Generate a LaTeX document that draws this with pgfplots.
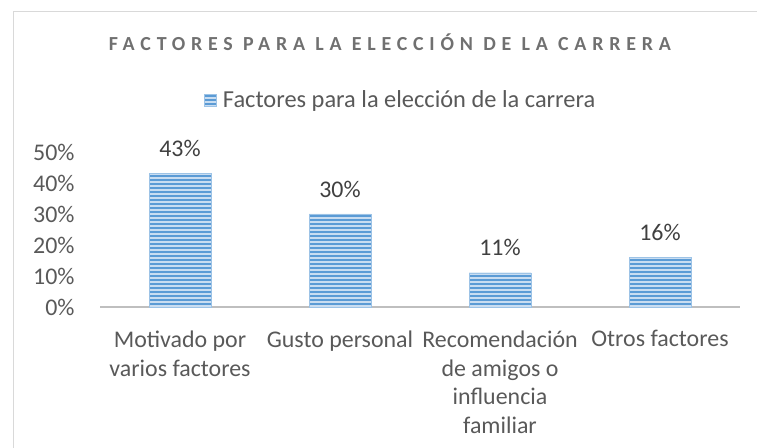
\documentclass[border=0pt]{standalone}
\usepackage{fontspec}
\setmainfont{Carlito}
\usepackage{pgfplots}
\pgfplotsset{compat=1.18}
\usetikzlibrary{patterns.meta}
\definecolor{txt}{HTML}{595959}
\definecolor{lbl}{HTML}{404040}
\definecolor{ttl}{HTML}{707070}
\definecolor{barblue}{HTML}{5B9BD5}
\definecolor{barlight}{HTML}{C9DDF1}
\definecolor{axisgray}{HTML}{BFBFBF}
\definecolor{bordergray}{HTML}{D9D9D9}
\newfontfamily\titlefont[LetterSpace=29]{Carlito Bold}
\begin{document}
\begin{tikzpicture}[x=1bp,y=1bp]
\path[use as bounding box] (0,0) rectangle (757,448);
\draw[bordergray, line width=1.5bp] (13.5,-5) -- (13.5,436.5) -- (765,436.5);
\begin{axis}[
  at={(100bp,141bp)}, anchor=south west,
  scale only axis, width=640bp, height=155bp,
  xmin=-0.5, xmax=3.5, ymin=0, ymax=50,
  clip=false,
  /pgf/number format/assume math mode=true,
  ybar, bar width=62bp,
  axis x line*=bottom, axis y line*=left,
  x axis line style={axisgray, line width=1.5bp, -},
  y axis line style={draw=none},
  major tick length=0,
  ytick={0,10,20,30,40,50},
  yticklabel={\pgfmathprintnumber{\tick}\%},
  yticklabel style={font=\fontsize{24}{28}\selectfont, text=txt, xshift=-22bp},
  xtick={0,1,2,3},
  xticklabels={{Motivado por\\varios factores},{Gusto personal},{Recomendación\\de amigos o\\influencia\\familiar},{Otros factores}},
  xticklabel style={align=center, font=\fontsize{24}{29}\selectfont, text=txt, yshift=-20bp},
  title={FACTORES PARA LA ELECCIÓN DE LA CARRERA},
  title style={at={(0.453,1.671)}, anchor=center, text=ttl, font=\titlefont\fontsize{20}{24}\selectfont},
  legend style={at={(0.470,1.335)}, anchor=center, draw=none, fill=none, font=\fontsize{24.5}{28}\selectfont, text=txt, inner sep=0pt},
  legend image code/.code={\draw[#1] (0bp,-6bp) rectangle (12bp,6bp);},
  nodes near coords={\pgfmathprintnumber{\pgfplotspointmeta}\%},
  nodes near coords style={font=\fontsize{24}{28}\selectfont, text=lbl, anchor=center, yshift=25bp},
]
\addplot[draw=barblue!60, line width=0.6bp, fill=barlight,
  postaction={pattern={Lines[angle=0,distance=4bp,line width=2bp]}, pattern color=barblue}]
  coordinates {(0,43) (1,30) (2,11) (3,16)};
\addlegendentry{\hspace{4bp}Factores para la elección de la carrera}
\end{axis}
\end{tikzpicture}
\end{document}
